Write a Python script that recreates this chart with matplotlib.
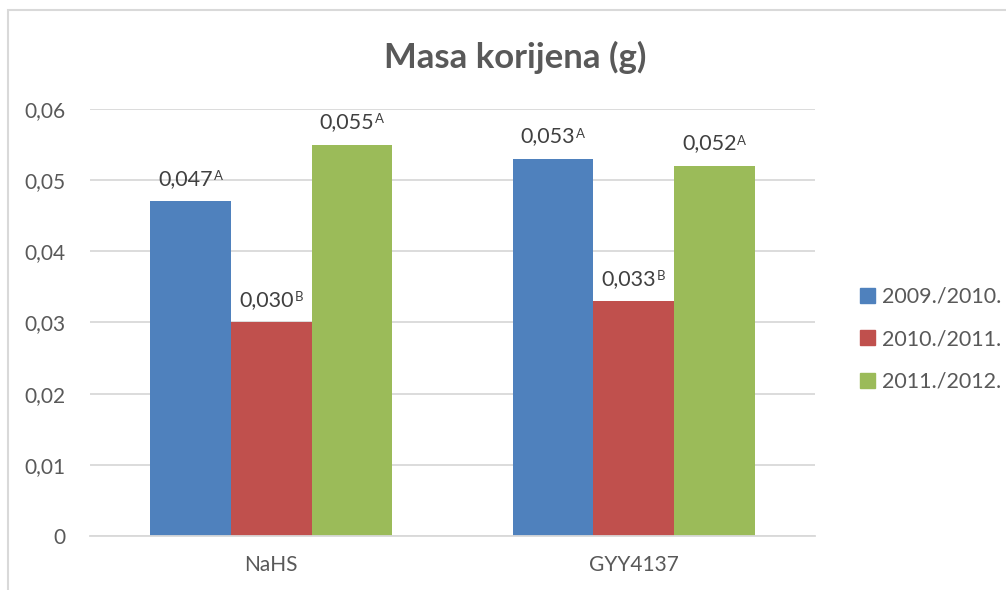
import numpy as np
import matplotlib.pyplot as plt
from matplotlib.patches import Patch, Rectangle

plt.rcParams['font.family'] = ['Lato', 'DejaVu Sans']

# data
categories = ['NaHS', 'GYY4137']
seasons = ['2009./2010.', '2010./2011.', '2011./2012.']
values = [[0.047, 0.053],
          [0.030, 0.033],
          [0.055, 0.052]]
letters = [['A', 'A'],
           ['B', 'B'],
           ['A', 'A']]
colors = ['#4F81BD', '#C0504D', '#9BBB59']
yticks = [0, 0.01, 0.02, 0.03, 0.04, 0.05, 0.06]

txt = '#595959'
grid = '#D9D9D9'

fig = plt.figure(figsize=(10.06, 5.9), dpi=100)
ax = fig.add_axes([0.0895, 0.0915, 0.7205, 0.7238])

x = np.arange(len(categories))
w = 0.2226
for i, s in enumerate(seasons):
    pos = x + (i - 1) * w
    bars = ax.bar(pos, values[i], w, color=colors[i], label=s, zorder=3)
    for b, v, l in zip(bars, values[i], letters[i]):
        lab = ('%.3f' % v).replace('.', ',')
        t = ax.annotate(lab, (b.get_x() + b.get_width() / 2, v),
                        xytext=(-3.5, 9), textcoords='offset points',
                        ha='center', va='bottom', fontsize=15.5, color='#404040')
        ax.annotate(l, xy=(1, 0.93), xycoords=t, xytext=(0.5, 0),
                    textcoords='offset points', ha='left', va='top',
                    fontsize=9.5, color='#404040')

ax.set_xlim(-0.5, 1.5)
ax.set_ylim(0, 0.06)
ax.set_yticks(yticks)
ax.set_yticklabels(['0' if t == 0 else ('%.2f' % t).replace('.', ',') for t in yticks])
ax.set_xticks(x)
ax.set_xticklabels(categories)
ax.tick_params(length=0, labelsize=15, colors=txt)
ax.tick_params(axis='y', pad=18)
ax.tick_params(axis='x', pad=14)
ax.yaxis.grid(True, color=grid, lw=1.3, zorder=0)
for sp in ['top', 'right', 'left']:
    ax.spines[sp].set_visible(False)
ax.spines['bottom'].set_color(grid)
ax.spines['bottom'].set_linewidth(1.3)
ax.spines['bottom'].set_zorder(4)

fig.text(0.512, 0.903, 'Masa korijena (g)', ha='center', va='center',
         fontsize=25, fontweight='bold', color=txt)

handles = [Patch(color=c) for c in colors]
fig.legend(handles, seasons, loc='center left', bbox_to_anchor=(0.836, 0.425),
           frameon=False, fontsize=15.5, labelcolor=txt, handlelength=0.7,
           handleheight=0.7, handletextpad=0.3, labelspacing=1.05)

# outer chart border (cut at right and bottom)
fig.patches.append(Rectangle((8 / 1006, -0.1), 1.2, (590 - 10) / 590 + 0.1,
                             transform=fig.transFigure, fill=False,
                             edgecolor=grid, lw=1.5))

fig.savefig('out.png', dpi=100)
